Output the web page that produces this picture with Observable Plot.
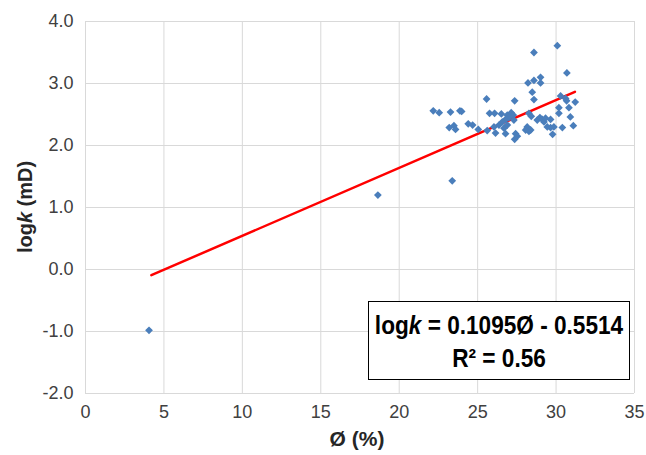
<!DOCTYPE html>
<html>
<head>
<meta charset="utf-8">
<script src="https://cdn.jsdelivr.net/npm/d3@7"></script>
<script src="https://cdn.jsdelivr.net/npm/@observablehq/plot@0.6"></script>
<style>
  html, body { margin: 0; padding: 0; background: #fff; }
  #chart { position: relative; width: 646px; height: 455px; }
</style>
</head>
<body>
<div id="chart"></div>
<script>
// Porosity (%) values
const porosity = [
  30.08, 28.59, 30.69, 28.21, 28.59, 29.01, 29.01, 28.48, 28.59, 25.57,
  27.36, 30.29, 30.61, 30.67, 31.22, 30.18, 30.82, 30.18, 30.91, 30.40,
  31.10, 29.78, 22.17, 22.55, 23.27, 23.87, 23.98, 23.19, 23.49, 23.59,
  24.40, 24.68, 25.04, 23.38, 18.64, 25.76, 26.08, 26.51, 26.89, 27.14,
  27.27, 26.99, 26.78, 26.57, 27.31, 26.89, 26.68, 26.14, 25.61, 26.78,
  27.42, 27.53, 27.36, 28.27, 28.42, 28.16, 28.27, 28.38, 28.80, 28.97,
  29.12, 29.23, 29.33, 29.65, 29.44, 29.65, 29.86, 26.04, 26.36, 28.06,
  4.05
];
// log permeability (mD) values
const logk = [
  3.61, 3.50, 3.17, 3.01, 3.05, 3.10, 3.01, 2.86, 2.74, 2.75,
  2.72, 2.80, 2.76, 2.72, 2.70, 2.61, 2.61, 2.52, 2.46, 2.29,
  2.32, 2.18, 2.56, 2.53, 2.54, 2.56, 2.55, 2.29, 2.32, 2.26,
  2.35, 2.33, 2.26, 1.43, 1.20, 2.52, 2.52, 2.51, 2.49, 2.53,
  2.49, 2.45, 2.42, 2.38, 2.41, 2.33, 2.28, 2.20, 2.24, 2.19,
  2.19, 2.15, 2.10, 2.52, 2.47, 2.30, 2.23, 2.25, 2.41, 2.45,
  2.42, 2.38, 2.44, 2.42, 2.30, 2.29, 2.30, 2.30, 2.33, 2.25,
  -0.98
];
// Linear trend: logk = slope * phi + intercept
const slope = 0.1095;
const intercept = -0.5514;
const trendRange = [4.2, 31.2];
const xTicks = [0, 5, 10, 15, 20, 25, 30, 35];
const yTicks = [-2, -1, 0, 1, 2, 3, 4];

const points = porosity.map((x, i) => ({x, y: logk[i]}));
const trend = trendRange.map(x => ({x, y: slope * x + intercept}));

const gridColor = "#d9d9d9";
const font = "'Liberation Sans', Arial, sans-serif";
const plot = Plot.plot({
  width: 646,
  height: 455,
  marginLeft: 85,
  marginRight: 12,
  marginTop: 21,
  marginBottom: 62,
  style: {fontFamily: font, background: "#fff"},
  x: {domain: [0, 35]},
  y: {domain: [-2, 4]},
  marks: [
    Plot.gridX(xTicks, {stroke: gridColor, strokeOpacity: 1, strokeWidth: 1}),
    Plot.gridY(yTicks, {stroke: gridColor, strokeOpacity: 1, strokeWidth: 1}),
    Plot.axisX(xTicks, {tickSize: 0, tickPadding: 12, fontSize: 18, fill: "#404040", label: null}),
    Plot.axisY(yTicks, {tickSize: 0, tickPadding: 12, fontSize: 18, fill: "#404040", label: null,
      tickFormat: d => d.toFixed(1)}),
    Plot.line(trend, {x: "x", y: "y", stroke: "#ff0000", strokeWidth: 2.5}),
    Plot.dot(points, {x: "x", y: "y", symbol: "diamond2", r: 3.5, fill: "#4a7ebb", stroke: "none"})
  ]
});

const svg = d3.select(plot);
// Axis titles
svg.append("text")
  .attr("x", 357).attr("y", 446)
  .attr("text-anchor", "middle")
  .attr("font-family", font)
  .attr("font-weight", "bold").attr("font-size", 21).attr("fill", "#262626")
  .text("Ø (%)");
const yl = svg.append("text")
  .attr("transform", "translate(32,207) rotate(-90)")
  .attr("text-anchor", "middle")
  .attr("font-family", font)
  .attr("font-weight", "bold").attr("font-size", 20).attr("fill", "#262626");
yl.append("tspan").text("log");
yl.append("tspan").attr("font-style", "italic").text("k");
yl.append("tspan").text(" (mD)");

// Equation box
const box = svg.append("g");
box.append("rect").attr("x", 368.5).attr("y", 301.5).attr("width", 261).attr("height", 78)
  .attr("fill", "#fff").attr("stroke", "#000").attr("stroke-width", 1);
const eq = box.append("text")
  .attr("transform", "translate(499,334) scale(0.87,1)")
  .attr("text-anchor", "middle")
  .attr("font-family", font)
  .attr("font-weight", "bold").attr("font-size", 26).attr("fill", "#000");
eq.append("tspan").text("log");
eq.append("tspan").attr("font-style", "italic").text("k");
eq.append("tspan").text(` = ${slope}Ø - ${Math.abs(intercept)}`);
box.append("text")
  .attr("transform", "translate(499,367) scale(0.87,1)")
  .attr("text-anchor", "middle")
  .attr("font-family", font)
  .attr("font-weight", "bold").attr("font-size", 26).attr("fill", "#000")
  .text("R² = 0.56");

document.getElementById("chart").appendChild(plot);
</script>
</body>
</html>
